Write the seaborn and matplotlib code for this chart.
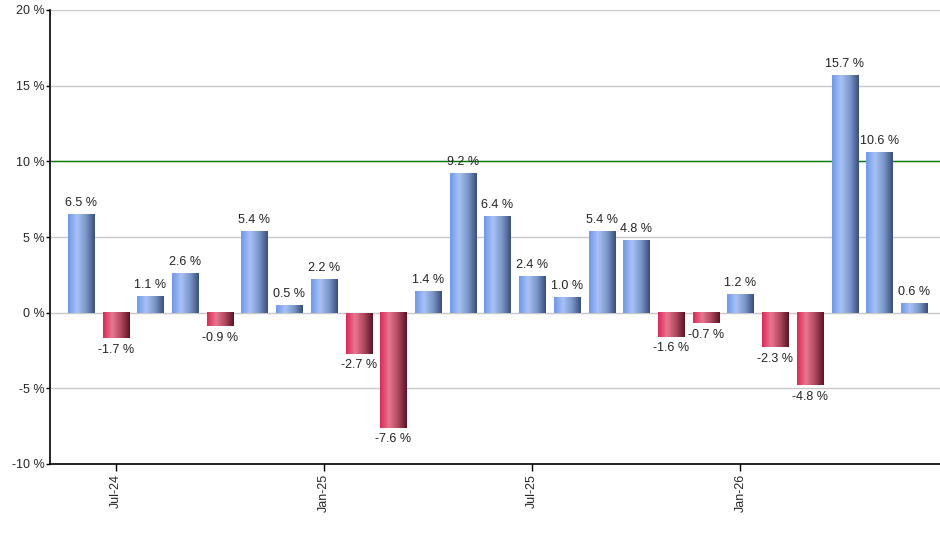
import numpy as np
import pandas as pd
import matplotlib
matplotlib.use('Agg')
import matplotlib.pyplot as plt
from matplotlib.colors import LinearSegmentedColormap
import seaborn as sns

# monthly returns, Jun-24 .. Jun-26
months = ['Jun-24', 'Jul-24', 'Aug-24', 'Sep-24', 'Oct-24', 'Nov-24', 'Dec-24',
          'Jan-25', 'Feb-25', 'Mar-25', 'Apr-25', 'May-25', 'Jun-25', 'Jul-25',
          'Aug-25', 'Sep-25', 'Oct-25', 'Nov-25', 'Dec-25', 'Jan-26', 'Feb-26',
          'Mar-26', 'Apr-26', 'May-26', 'Jun-26']
returns = [6.5, -1.7, 1.1, 2.6, -0.9, 5.4, 0.5, 2.2, -2.7, -7.6, 1.4, 9.2, 6.4,
           2.4, 1.0, 5.4, 4.8, -1.6, -0.7, 1.2, -2.3, -4.8, 15.7, 10.6, 0.6]
shown_ticks = ['Jul-24', 'Jan-25', 'Jul-25', 'Jan-26']
target = 10

df = pd.DataFrame({'month': months, 'ret': returns})

sns.set_style('white')
plt.rcParams['font.family'] = ['Liberation Sans', 'DejaVu Sans']

fig = plt.figure(figsize=(9.4, 5.5), dpi=100)
ax = fig.add_axes([50 / 940, 86 / 550, 890 / 940, 454 / 550])

sns.barplot(data=df, x='month', y='ret', color='#7fa3e8', width=0.75,
            ax=ax, zorder=3, linewidth=0)

blue = LinearSegmentedColormap.from_list('b', ['#6e98ea', '#a8c2f4', '#7c98cc', '#3a4f7c'])
red = LinearSegmentedColormap.from_list('r', ['#dc2a55', '#e87690', '#b04a60', '#5e1424'])
grad = np.linspace(0, 1, 64).reshape(1, -1)

for patch, v in zip(ax.patches, returns):
    x0, y0 = patch.get_x(), patch.get_y()
    w, h = patch.get_width(), patch.get_height()
    y_lo, y_hi = min(y0, y0 + h), max(y0, y0 + h)
    ax.imshow(grad, cmap=blue if v >= 0 else red, aspect='auto',
              extent=(x0, x0 + w, y_lo, y_hi), zorder=4)
    patch.set_visible(False)
    cx = x0 + w / 2
    if v >= 0:
        ax.text(cx, v + 0.35, f'{v:.1f} %', ha='center', va='bottom', fontsize=9, color='#222222')
    else:
        ax.text(cx, v - 0.35, f'{v:.1f} %', ha='center', va='top', fontsize=9, color='#222222')

ax.set_xlim(-0.89, 24.75)
ax.set_ylim(-10, 20)
ax.set_yticks(range(-10, 21, 5))
ax.set_yticklabels([f'{t} %' for t in range(-10, 21, 5)], fontsize=9)
for t in range(-5, 21, 5):
    ax.axhline(t, color='#c8c8c8', linewidth=1, zorder=1)
ax.axhline(target, color='#008000', linewidth=1, zorder=2)

ax.set_xticks([months.index(m) for m in shown_ticks])
ax.set_xticklabels(shown_ticks, rotation=90, fontsize=9)
ax.tick_params(axis='x', length=5, width=1, color='black', bottom=True, pad=2)
ax.tick_params(axis='y', length=3, width=1, color='black', left=True, pad=1)
ax.set_xlabel('')
ax.set_ylabel('')

for s in ['top', 'right']:
    ax.spines[s].set_visible(False)
for s in ['left', 'bottom']:
    ax.spines[s].set_color('black')
    ax.spines[s].set_linewidth(1.2)

fig.savefig('out.png', dpi=100)
